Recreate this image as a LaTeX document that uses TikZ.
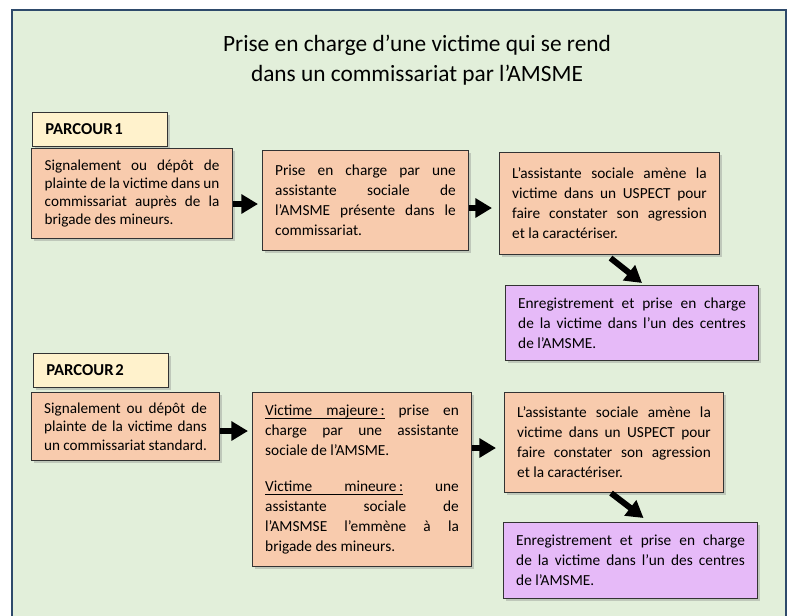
\documentclass[tikz,border=0pt]{standalone}
\usepackage{fontspec}
\setmainfont{Carlito}
\usetikzlibrary{shadows,arrows.meta,calc}
\definecolor{panelgreen}{HTML}{E2EFDA}
\definecolor{peach}{HTML}{F8CBAD}
\definecolor{lilac}{HTML}{E6BAF8}
\definecolor{cream}{HTML}{FFF2CC}
\definecolor{panelframe}{HTML}{2E4A6B}
\newcommand\ulword[1]{\leavevmode\setbox0\hbox{#1}\rlap{\vrule height -1.5pt depth 2.1pt width \wd0}\box0\relax}
\newcommand\ulspace{\leavevmode\leaders\hrule height -1.5pt depth 2.1pt\hskip\fontdimen2\font plus\fontdimen3\font minus\fontdimen4\font\relax}
\begin{document}
\begin{tikzpicture}[x=0.75pt,y=-0.75pt,
  card/.style={draw=black!80, line width=0.8pt, anchor=north west,
    inner xsep=9.5pt, inner ysep=3pt, align=justify,
    font=\fontsize{11.5}{15}\selectfont,
    drop shadow={shadow xshift=1.5pt,shadow yshift=-1.5pt,opacity=0.35}},
  peachcard/.style={card, fill=peach},
  lilaccard/.style={card, fill=lilac},
  tight/.style={font=\fontsize{11.4}{13.7}\selectfont},
  tagbox/.style={card, fill=cream, align=left, font=\fontsize{12.5}{14}\selectfont\bfseries},
  flow/.style={line width=4.5pt, -{Triangle[length=12.5pt,width=14pt]}}
]
\useasboundingbox (0,0) rectangle (790,615);
\begin{scope}
\clip (0,0) rectangle (790,615);
\path[fill=panelgreen, draw=panelframe, line width=0.9pt] (12,10) rectangle (786,640);
\end{scope}

\node[font=\fontsize{17.5}{22.5}\selectfont, align=center] (title) at (417,60)
  {Prise en charge d’une victime qui se rend\\dans un commissariat par l’AMSME};

% ---------- PARCOUR 1 ----------
\node[tagbox, minimum width=101.25pt, minimum height=25.5pt, text width=82pt] (t1) at (32,112) {PARCOUR\kern1.2pt 1};

\node[peachcard, tight, minimum width=150.75pt, minimum height=67.5pt, text width=131pt] (a1) at (31,148)
  {Signalement ou dépôt de\linebreak plainte de la victime dans un\linebreak commissariat auprès de la\linebreak brigade des mineurs.};

\node[peachcard, minimum width=154.5pt, minimum height=75pt, text width=135.5pt] (b1) at (262,150)
  {Prise en charge par une\linebreak assistante sociale de\linebreak l’AMSME présente dans le\linebreak commissariat.};

\node[peachcard, minimum width=165pt, minimum height=76.5pt, text width=146pt] (c1) at (499,152)
  {L’assistante sociale amène la\linebreak victime dans un USPECT pour\linebreak faire constater son agression\linebreak et la caractériser.};

\node[lilaccard, minimum width=189.75pt, minimum height=56.25pt, text width=170.75pt] (d1) at (505,285)
  {Enregistrement et prise en charge\linebreak de la victime dans l’un des centres\linebreak de l’AMSME.};

\draw[flow] (a1.east |- 0,204) -- ($(b1.west |- 0,204)+(-4,0)$);
\draw[flow] (b1.east |- 0,208) -- ($(c1.west |- 0,208)+(-7,0)$);
\draw[flow] ($(c1.south)+(1,3)$) -- ($(d1.north)+(10,-2)$);

% ---------- PARCOUR 2 ----------
\node[tagbox, minimum width=101.25pt, minimum height=25.5pt, text width=82pt] (t2) at (33,353) {PARCOUR\kern1.2pt 2};

\node[peachcard, tight, minimum width=141pt, minimum height=51pt, text width=122pt] (a2) at (31,392)
  {Signalement ou dépôt de\linebreak plainte de la victime dans\linebreak un commissariat standard.};

\node[peachcard, minimum width=164.25pt, minimum height=130.5pt, text width=145.25pt] (b2) at (252,392)
  {\ulword{Victime}\ulspace\ulword{majeure\,:} prise en\linebreak charge par une assistante\linebreak sociale de l’AMSME.\par\vskip 12pt
   \ulword{Victime}\ulspace\ulword{mineure\,:} une\linebreak assistante sociale de\linebreak l’AMSMSE l’emmène à la\linebreak brigade des mineurs.};

\node[peachcard, minimum width=164.25pt, minimum height=75pt, text width=145.25pt] (c2) at (504,392)
  {L’assistante sociale amène la\linebreak victime dans un USPECT pour\linebreak faire constater son agression\linebreak et la caractériser.};

\node[lilaccard, minimum width=190.5pt, minimum height=57pt, text width=171.5pt] (d2) at (503,522)
  {Enregistrement et prise en charge\linebreak de la victime dans l’un des centres\linebreak de l’AMSME.};

\draw[flow] (a2.east |- 0,431) -- ($(b2.west |- 0,431)+(-4,0)$);
\draw[flow] (b2.east |- 0,448) -- ($(c2.west |- 0,448)+(-8,0)$);
\draw[flow] ($(c2.south)+(-3,0)$) -- ($(d2.north)+(13,-4)$);
\end{tikzpicture}
\end{document}
